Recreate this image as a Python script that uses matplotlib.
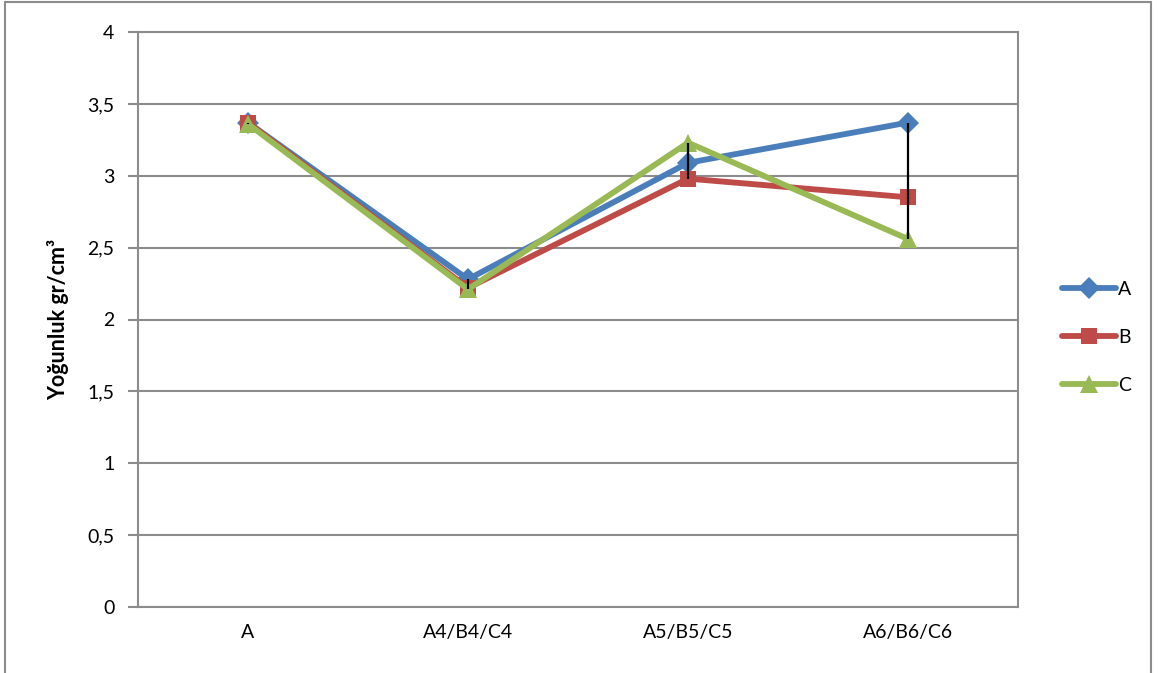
import matplotlib
matplotlib.use("Agg")
import matplotlib.pyplot as plt
from matplotlib.patches import Rectangle
from matplotlib.ticker import FuncFormatter
import numpy as np

plt.rcParams["font.family"] = ["Lato", "DejaVu Sans"]

categories = ["A", "A4/B4/C4", "A5/B5/C5", "A6/B6/C6"]
series_a = [3.37, 2.28, 3.09, 3.37]
series_b = [3.37, 2.22, 2.98, 2.85]
series_c = [3.36, 2.21, 3.23, 2.56]

W, H = 1158, 673
fig = plt.figure(figsize=(W / 100, H / 100), dpi=100)
ax = fig.add_axes([138 / W, 1 - 607 / H, (1018 - 138) / W, (607 - 32) / H])

x = np.arange(len(categories))
styles = [
    ("A", series_a, "#4A7EBB", "D", 11),
    ("B", series_b, "#BE4B48", "s", 11),
    ("C", series_c, "#98B954", "^", 13),
]
for name, vals, col, mk, ms in styles:
    ax.plot(x, vals, color=col, lw=4.2, marker=mk, markersize=ms,
            markeredgewidth=0, label=name, zorder=3, solid_capstyle="round")

# high-low lines
allv = np.array([series_a, series_b, series_c])
ax.vlines(x, allv.min(axis=0), allv.max(axis=0), color="black", lw=1.6, zorder=4)

ax.set_xlim(-0.5, len(categories) - 0.5)
ax.set_ylim(0, 4)
ax.set_yticks(np.arange(0, 4.01, 0.5))
ax.yaxis.set_major_formatter(FuncFormatter(lambda v, p: f"{v:g}".replace(".", ",")))
ax.set_xticks(x)
ax.set_xticklabels(categories)
ax.grid(axis="y", color="#8C8C8C", lw=1.5, zorder=0)
ax.tick_params(axis="x", length=0, pad=12, labelsize=14)
ax.tick_params(axis="y", length=7, width=1.5, color="#8C8C8C", pad=10, labelsize=14)
for side in ["left", "bottom", "right", "top"]:
    ax.spines[side].set_color("#8C8C8C")
    ax.spines[side].set_linewidth(1.5)

ax.set_ylabel("Yoğunluk gr/cm³", fontsize=15.5, fontweight="bold", labelpad=13)

leg = ax.legend(loc="center left", bbox_to_anchor=(1.03, 0.469), frameon=False,
                fontsize=14, handlelength=2.8, handletextpad=0.1, labelspacing=1.6)

fig.patches.append(Rectangle((5 / W, -0.1), (1151 - 5) / W, 1.1 - 2 / H,
                             transform=fig.transFigure, fill=False,
                             edgecolor="#8C8C8C", lw=1.5))

fig.savefig("out.png", dpi=100)
